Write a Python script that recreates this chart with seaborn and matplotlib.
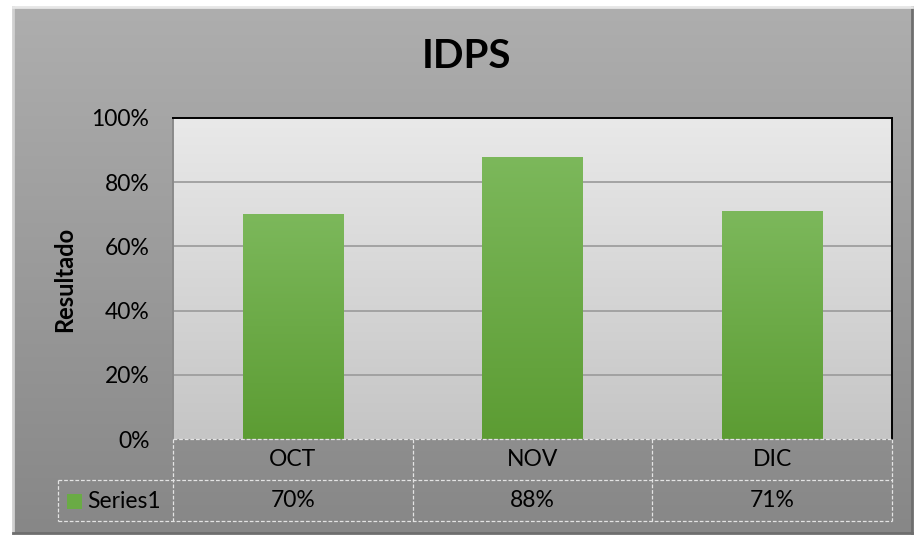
"""
Gráfico IDPS: resultado mensual (OCT-DIC) con tabla de datos debajo.
"""
import numpy as np
import pandas as pd
import matplotlib
matplotlib.use("Agg")
import matplotlib.pyplot as plt
import seaborn as sns

# ─── Datos ──────────────────────────────────────────────────────────────────
MESES = ["OCT", "NOV", "DIC"]
VALORES = [0.70, 0.88, 0.71]
SERIE = "Series1"
TICKS_Y = [0.0, 0.2, 0.4, 0.6, 0.8, 1.0]
TITULO = "IDPS"
ETIQUETA_Y = "Resultado"

# ─── Estilo ─────────────────────────────────────────────────────────────────
sns.set_theme(style="white")
plt.rcParams["font.family"] = ["Lato", "DejaVu Sans"]

W, H = 915, 536
TAM = 16.5
fig = plt.figure(figsize=(W / 100, H / 100), dpi=100, facecolor="white")


def px(x0, y0, x1, y1):
    """Rectángulo en píxeles (origen arriba-izquierda) → fracciones de figura."""
    return [x0 / W, 1 - y1 / H, (x1 - x0) / W, (y1 - y0) / H]


# Fondo del gráfico con degradado gris
fondo = fig.add_axes(px(13, 7, 912, 533))
grad = np.linspace(0, 1, 256).reshape(-1, 1)
fondo.imshow(grad, aspect="auto", cmap=matplotlib.colors.LinearSegmentedColormap.from_list(
    "fondo", ["#aeaeae", "#878787"]), extent=[0, 1, 0, 1], origin="upper")
fondo.set_xticks([])
fondo.set_yticks([])
for lado, color in [("top", "#e6e6e6"), ("left", "#d0d0d0"),
                    ("right", "#6e6e6e"), ("bottom", "#6e6e6e")]:
    fondo.spines[lado].set_color(color)
    fondo.spines[lado].set_linewidth(2)

# Área de trazado
ax = fig.add_axes(px(173, 118, 892, 439))
df = pd.DataFrame({"mes": MESES, "valor": VALORES})
sns.barplot(data=df, x="mes", y="valor", color="#6aab45", width=0.42,
            saturation=1, linewidth=0, edgecolor="none", ax=ax, zorder=3)

ax.set_xlim(-0.5, len(MESES) - 0.5)
ax.set_ylim(0, 1)

# Degradado del área de trazado
ax.imshow(grad, aspect="auto", extent=[-0.5, len(MESES) - 0.5, 0, 1], origin="upper",
          cmap=matplotlib.colors.LinearSegmentedColormap.from_list(
              "plot", ["#e9e9e9", "#c5c5c5"]), zorder=0)

# Degradado en las barras
verde = matplotlib.colors.LinearSegmentedColormap.from_list("verde", ["#7cb85b", "#5c9c33"])
for barra in ax.patches:
    x0, y0 = barra.get_x(), barra.get_y()
    w, h = barra.get_width(), barra.get_height()
    img = ax.imshow(grad, aspect="auto", extent=[x0, x0 + w, y0, y0 + h],
                    origin="upper", cmap=verde, zorder=4)
    img.set_clip_path(barra)
ax.set_xlim(-0.5, len(MESES) - 0.5)
ax.set_ylim(0, 1)

# Cuadrícula
for t in TICKS_Y[1:-1]:
    ax.axhline(t, color="#9a9a9a", linewidth=1.2, zorder=1)

ax.set_yticks(TICKS_Y)
ax.set_yticklabels([f"{int(round(t * 100))}%" for t in TICKS_Y], fontsize=TAM, color="black")
ax.tick_params(axis="y", length=0, pad=17)
ax.set_xticks([])
ax.set_xlabel("")
ax.set_ylabel("")

ax.spines["top"].set_color("black")
ax.spines["right"].set_color("black")
ax.spines["left"].set_color("#8a8a8a")
ax.spines["bottom"].set_visible(False)
for s in ["top", "right", "left"]:
    ax.spines[s].set_linewidth(1.4)

# Título y etiqueta del eje Y
fig.text(467 / W, 1 - 57 / H, TITULO, ha="center", va="center",
         fontsize=29, fontweight="bold", color="black")
fig.text(65 / W, 1 - 279 / H, ETIQUETA_Y, ha="center", va="center",
         rotation=90, fontsize=17, fontweight="bold", color="black")

# ─── Tabla de datos ─────────────────────────────────────────────────────────
fila = 41 / 321
izq_leyenda = (58 - 173) / 719
estilo_linea = dict(color="#e4e4e4", linewidth=0.9, linestyle=(0, (3, 1.5)),
                    transform=ax.transAxes, clip_on=False, zorder=5)
n = len(MESES)
# líneas horizontales
ax.plot([0, 1], [0, 0], **estilo_linea)
ax.plot([izq_leyenda, 1], [-fila, -fila], **estilo_linea)
ax.plot([izq_leyenda, 1], [-2 * fila, -2 * fila], **estilo_linea)
# líneas verticales
for i in range(n + 1):
    ax.plot([i / n, i / n], [0, -2 * fila], **estilo_linea)
ax.plot([izq_leyenda, izq_leyenda], [-fila, -2 * fila], **estilo_linea)

for i, (mes, valor) in enumerate(zip(MESES, VALORES)):
    xc = (i + 0.5) / n
    ax.text(xc, -fila / 2, mes, transform=ax.transAxes, ha="center", va="center",
            fontsize=TAM, color="black")
    ax.text(xc, -1.5 * fila, f"{int(round(valor * 100))}%", transform=ax.transAxes,
            ha="center", va="center", fontsize=TAM, color="black")

# clave de la leyenda
clave = matplotlib.patches.Rectangle((67 / W, 1 - 509 / H), 15 / W, 15 / H,
                                     transform=fig.transFigure, facecolor="#6aab45",
                                     edgecolor="none")
fig.patches.append(clave)
fig.text(87 / W, 1 - 501 / H, SERIE, ha="left", va="center", fontsize=TAM, color="black")

fig.savefig("out.png", dpi=100, facecolor="white")
